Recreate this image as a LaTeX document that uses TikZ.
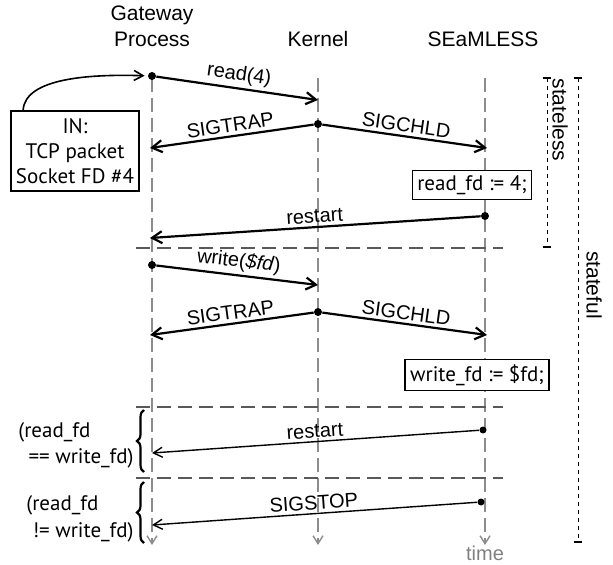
\documentclass[tikz,border=0pt]{standalone}
\usepackage{fontspec}
\setmainfont{Liberation Sans}
\newfontfamily\stmtfont{PT Sans}
\usetikzlibrary{arrows.meta,decorations.pathreplacing}

\tikzset{
	life/.style={gray!90,line width=0.7pt,dash pattern=on 7pt off 3pt,-{Straight Barb[length=4pt,width=5pt]}},
	msg/.style={line width=1.1pt,-{Straight Barb[length=5pt,width=6pt]}},
	thinmsg/.style={line width=0.7pt,-{Straight Barb[length=4.5pt,width=5pt]}},
	sep/.style={gray!70!black,line width=0.7pt,dash pattern=on 7pt off 3.5pt},
	phase/.style={line width=0.5pt,dash pattern=on 2pt off 2pt,{Bar[width=4pt,line width=0.8pt]}-{Bar[width=4pt,line width=0.8pt]}},
	lbl/.style={sloped,above,inner sep=1.5pt,font=\fontsize{10}{12}\selectfont},
	head/.style={align=center,font=\fontsize{10.5}{13}\selectfont},
	stmt/.style={draw,line width=0.8pt,inner sep=2.5pt,font=\stmtfont\fontsize{10.5}{12.5}\selectfont},
	cond/.style={inner sep=0pt,font=\stmtfont\fontsize{10.5}{12.5}\selectfont},
	dot/.style={circle,fill,inner sep=0pt,minimum size=4pt},
	brace/.style={line width=1.1pt,decorate,decoration={brace,amplitude=3.5pt}},
}

\begin{document}
\begin{tikzpicture}[x=0.5pt,y=-0.5pt]
	\useasboundingbox (0,0) rectangle (613,565);

	% actors
	\node[head,anchor=base] (gw) at (152,47) {Gateway\\Process};
	\node[head,anchor=base] (kern) at (318,47) {Kernel};
	\node[head,anchor=base] (seam) at (483,47) {SEaMLESS};

	% time lines
	\draw[life] (152,78) -- (152,545);
	\draw[life] (318,78) -- (318,545);
	\draw[life] (485,78) -- (485,545);
	\node[anchor=base,gray,inner sep=0pt,font=\fontsize{10}{12}\selectfont] (time) at (485,560) {time};

	% separators
	\foreach \y in {248,407,478}
		\draw[sep] (136,\y) -- (503,\y);

	% message points
	\node[dot] (d1) at (152,76) {};
	\node[dot] (d2) at (318,124) {};
	\node[dot] (d3) at (485,216) {};
	\node[dot] (d4) at (152,265) {};
	\node[dot] (d5) at (318,312) {};
	\node[dot,minimum size=3.5pt] (d6) at (483,430) {};
	\node[dot,minimum size=3.5pt] (d7) at (481,502) {};

	\coordinate (t1) at (318,100);
	\coordinate (t2) at (150,148);
	\coordinate (t3) at (487,148);
	\coordinate (t4) at (150,238);
	\coordinate (t5) at (318,285);
	\coordinate (t6) at (150,335);
	\coordinate (t7) at (487,335);
	\coordinate (t8) at (152,453);
	\coordinate (t9) at (152,525);

	% stateless part
	\draw[msg] (d1) -- node[lbl] {read(4)} (t1);
	\draw[msg] (d2) -- node[lbl] {SIGTRAP} (t2);
	\draw[msg] (d2) -- node[lbl] {SIGCHLD} (t3);
	\node[stmt,fill=white] (rfd) at (472,185) {read\_fd := 4;};
	\draw[msg] (d3) -- node[lbl] {restart} (t4);

	% stateful part
	\draw[msg] (d4) -- node[lbl] {write(\textit{\$fd})} (t5);
	\draw[msg] (d5) -- node[lbl] {SIGTRAP} (t6);
	\draw[msg] (d5) -- node[lbl] {SIGCHLD} (t7);
	\node[stmt,fill=white] (wfd) at (477,375) {write\_fd := \$fd;};
	\draw[thinmsg] (d6) -- node[lbl] {restart} (t8);
	\draw[thinmsg] (d7) -- node[lbl] {SIGSTOP} (t9);

	% input
	\node[stmt,align=center,minimum width=63pt,minimum height=40pt] (inp) at (75,151) {IN:\\TCP packet\\Socket FD \#4};
	\draw[line width=0.8pt,-{Straight Barb[length=4.5pt,width=5pt]},shorten >=1.5pt]
		([xshift=6.5pt]inp.north west) .. controls (25,78) and (90,74) .. (d1);

	% conditions
	\draw[brace] (144,472) -- (144,410);
	\draw[brace] (144,543) -- (144,482);
	\node[cond,anchor=base west] (c1a) at (18,437) {(read\_fd};
	\node[cond,anchor=base east] (c1b) at (134,463) {== write\_fd)};
	\node[cond,anchor=base west] (c2a) at (26,510) {(read\_fd};
	\node[cond,anchor=base east] (c2b) at (134,537) {!= write\_fd)};

	% phases
	\draw[phase] (547,77) -- (547,248);
	\node[rotate=-90,font=\fontsize{10.5}{12}\selectfont] (sl) at (560,120) {stateless};
	\draw[phase] (578,77) -- (578,543);
	\node[rotate=-90,font=\fontsize{10.5}{12}\selectfont] (sf) at (594,285) {stateful};
\end{tikzpicture}
\end{document}
